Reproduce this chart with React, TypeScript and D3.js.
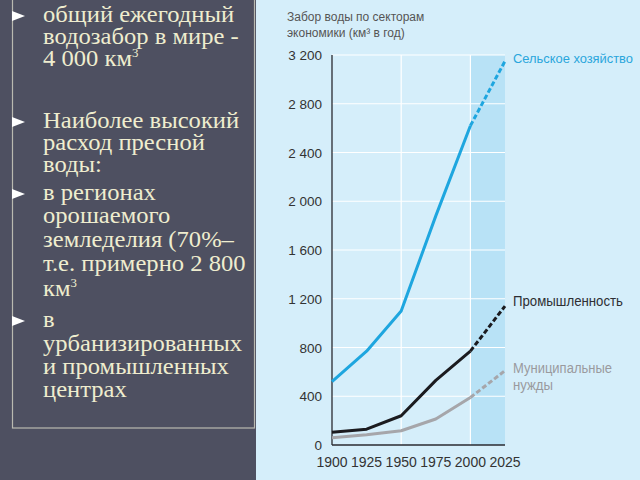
import React from "react";
import * as d3 from "d3";

const years = [1900, 1925, 1950, 1975, 2000, 2025];
const agriculture = [520, 770, 1100, 1880, 2620, 3150];
const industry = [105, 130, 240, 530, 770, 1140];
const municipal = [60, 85, 117, 213, 390, 610];
const yTicks = [0, 400, 800, 1200, 1600, 2000, 2400, 2800, 3200];
const xTicks = [1900, 1925, 1950, 1975, 2000, 2025];
const forecastStart = 2000;

const titleLines = ["Забор воды по секторам", "экономики (км³ в год)"];
const seriesNames = ["Сельское хозяйство", "Промышленность", "Муниципальные нужды"];

const bulletLines: { text: string; bullet: boolean; sup?: boolean }[] = [
  { text: "общий ежегодный", bullet: true },
  { text: "водозабор в мире -", bullet: false },
  { text: "4 000 км", bullet: false, sup: true },
  { text: "Наиболее высокий", bullet: true },
  { text: "расход пресной", bullet: false },
  { text: "воды:", bullet: false },
  { text: "в регионах", bullet: true },
  { text: "орошаемого", bullet: false },
  { text: "земледелия (70%–", bullet: false },
  { text: "т.е. примерно 2 800", bullet: false },
  { text: "км", bullet: false, sup: true },
  { text: "в", bullet: true },
  { text: "урбанизированных", bullet: false },
  { text: "и промышленных", bullet: false },
  { text: "центрах", bullet: false },
];
const bulletBaselines = [22, 44, 66, 128, 150, 172, 200, 223, 247, 271, 296, 327, 351, 374, 397];

const fmt = (v: number) => (v >= 1000 ? d3.format(",")(v).replace(",", " ") : String(v));

export default function App() {
  const W = 640, H = 480;
  const x = d3.scaleLinear().domain([1900, 2025]).range([332, 505]);
  const y = d3.scaleLinear().domain([0, 3200]).range([445, 55]);
  const line = d3
    .line<[number, number]>()
    .x((d) => x(d[0]))
    .y((d) => y(d[1]))
    .curve(d3.curveLinear);

  const split = (vals: number[]) => {
    const pts = years.map((yr, i) => [yr, vals[i]] as [number, number]);
    return {
      solid: pts.filter((p) => p[0] <= forecastStart),
      dashed: pts.filter((p) => p[0] >= forecastStart),
    };
  };
  const series = [
    { vals: agriculture, color: "#1ea6df", w: 3 },
    { vals: industry, color: "#1b1b1f", w: 3 },
    { vals: municipal, color: "#a6a6aa", w: 3 },
  ];
  const sans = "'Liberation Sans Narrow', 'Liberation Sans', Arial, sans-serif";

  return (
    <svg
      width={W}
      height={H}
      style={{ position: "absolute", left: 0, top: 0, display: "block" }}
    >
      {/* left panel */}
      <rect x={0} y={0} width={256} height={H} fill="#4e5061" />
      <rect x={12.5} y={-5} width={242} height={433} fill="none" stroke="#b9b9b0" strokeWidth={1.2} />
      {bulletLines.map((l, i) => {
        const by = bulletBaselines[i];
        return (
          <g key={i}>
            {l.bullet && (
              <path d={`M12,${by - 11} L25,${by - 6} L12,${by - 1} Z`} fill="#ffffff" />
            )}
            <g transform={`translate(43,${by}) scale(1.07,1)`}>
              <text
                x={0}
                y={0}
                fill="#efedcf"
                fontFamily="'Liberation Serif', 'Times New Roman', serif"
                fontSize={23}
              >
                {l.text}
                {l.sup && (
                  <tspan fontSize={12} dy={-9}>
                    3
                  </tspan>
                )}
              </text>
            </g>
          </g>
        );
      })}

      {/* right panel */}
      <rect x={256} y={0} width={W - 256} height={H} fill="#d5eefa" />
      <rect
        x={x(forecastStart)}
        y={y(3200)}
        width={x(2025) - x(forecastStart)}
        height={y(0) - y(3200)}
        fill="#b8e2f6"
      />
      {yTicks.slice(1).map((t) => (
        <line key={t} x1={x(1900)} x2={x(2025)} y1={y(t)} y2={y(t)} stroke="#ffffff" strokeWidth={1.2} />
      ))}
      {[1950, 2000].map((t) => (
        <line key={t} x1={x(t)} x2={x(t)} y1={y(0)} y2={y(3200)} stroke="#ffffff" strokeWidth={1.2} />
      ))}
      <line x1={x(1900)} x2={x(1900)} y1={y(0)} y2={y(3200)} stroke="#2a2a30" strokeWidth={1.3} />
      <line x1={x(1900)} x2={x(2025)} y1={y(0)} y2={y(0)} stroke="#2a2a30" strokeWidth={1.3} />

      {titleLines.map((t, i) => (
        <text key={i} x={287} y={20.5 + i * 16.5} fill="#555" fontFamily={sans} fontSize={12}>
          {t}
        </text>
      ))}

      {yTicks.map((t) => (
        <text
          key={t}
          x={322}
          y={y(t) + 5}
          textAnchor="end"
          fill="#333"
          fontFamily="'Liberation Sans', Arial, sans-serif"
          fontSize={13.5}
        >
          {fmt(t)}
        </text>
      ))}
      {xTicks.map((t) => (
        <text
          key={t}
          x={x(t)}
          y={466.5}
          textAnchor="middle"
          fill="#333"
          fontFamily="'Liberation Sans', Arial, sans-serif"
          fontSize={14}
        >
          {t}
        </text>
      ))}

      {series.map((s, i) => {
        const p = split(s.vals);
        return (
          <g key={i}>
            <path d={line(p.solid) || ""} fill="none" stroke={s.color} strokeWidth={s.w} strokeLinejoin="round" />
            <path
              d={line(p.dashed) || ""}
              fill="none"
              stroke={s.color}
              strokeWidth={s.w}
              strokeDasharray="5,2.5"
            />
          </g>
        );
      })}

      <text x={513} y={63} fill="#2aa6dc" fontFamily={sans} fontSize={13} textLength={120} lengthAdjust="spacingAndGlyphs">
        {seriesNames[0]}
      </text>
      <text x={513} y={306} fill="#2e2e33" fontFamily={sans} fontSize={14} textLength={110} lengthAdjust="spacingAndGlyphs">
        {seriesNames[1]}
      </text>
      <text x={513} y={373} fill="#9a9a9e" fontFamily={sans} fontSize={14} textLength={99} lengthAdjust="spacingAndGlyphs">
        {seriesNames[2].split(" ")[0]}
      </text>
      <text x={513} y={390} fill="#9a9a9e" fontFamily={sans} fontSize={14} textLength={40} lengthAdjust="spacingAndGlyphs">
        {seriesNames[2].split(" ")[1]}
      </text>
    </svg>
  );
}
